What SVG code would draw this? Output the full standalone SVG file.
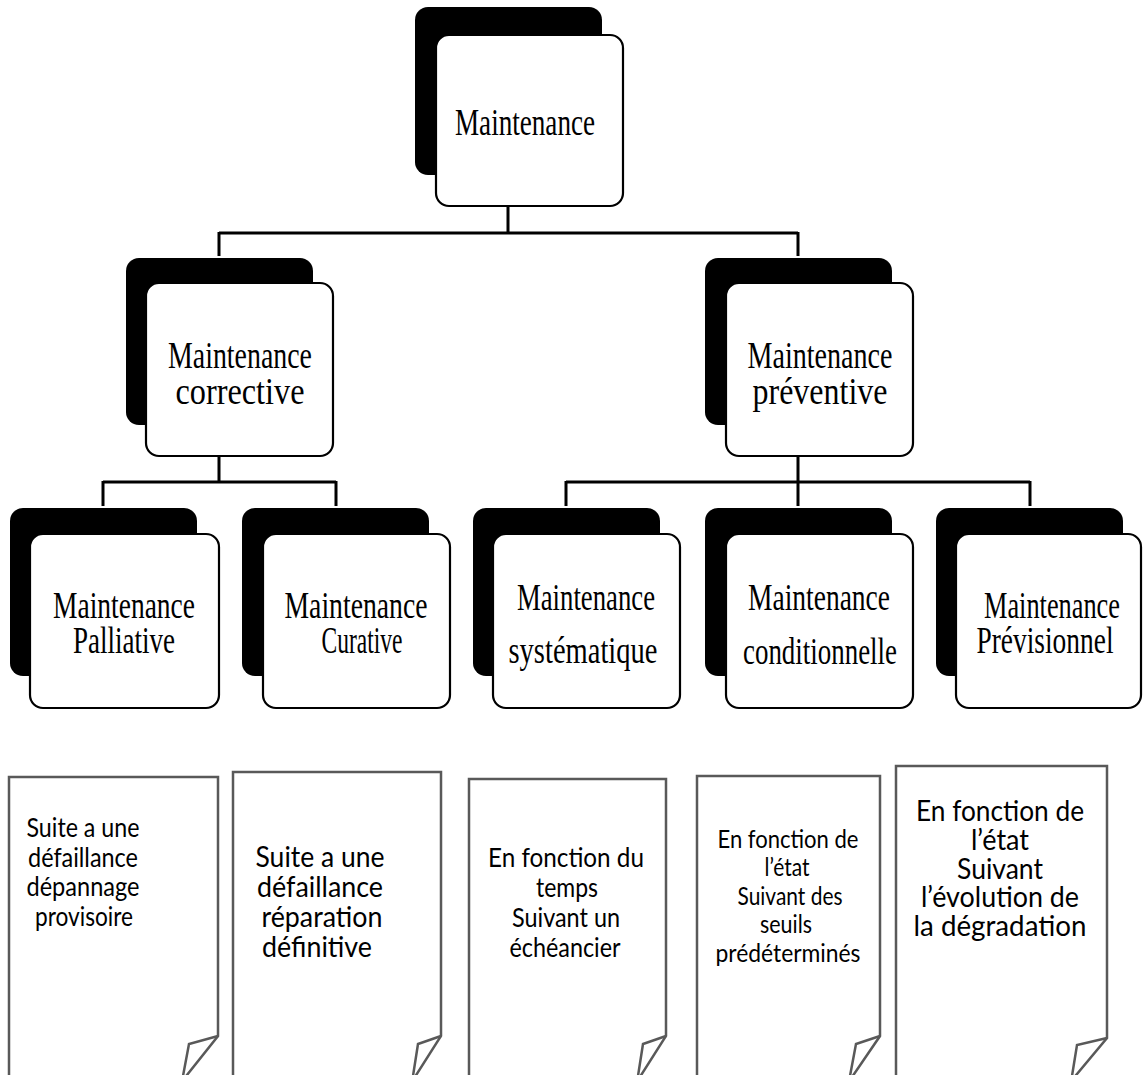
<svg xmlns="http://www.w3.org/2000/svg" width="1143" height="1075" viewBox="0 0 1143 1075">
  <style>
    .shadow { fill: #000; }
    .box { fill: #fff; stroke: #000; stroke-width: 2.2; }
    .lbl { font-family: "Liberation Serif", "Times New Roman", serif; font-size: 38px; text-anchor: middle; fill: #000; }
    .conn path { stroke: #000; stroke-width: 3; fill: none; }
    .doc { fill: #fff; stroke: #595959; stroke-width: 2.5; stroke-linejoin: miter; }
    .fold { fill: none; stroke: #595959; stroke-width: 2.5; stroke-linejoin: miter; }
    .note { font-family: Lato, "Open Sans", "Liberation Sans", sans-serif; text-anchor: middle; fill: #000; }
  </style>
  <rect width="1143" height="1075" fill="#fff"/>

  <!-- connectors of the tree -->
  <g id="connectors" class="conn">
    <path d="M508,206 V233 M219,233 H798 M219,232 V256 M798,232 V256"/>
    <path d="M219,456 V482 M103,482 H336 M103,481 V506 M336,481 V506"/>
    <path d="M798,456 V506 M566,482 H1030 M566,481 V506 M1030,481 V506"/>
  </g>

  <!-- level 1 -->
  <g id="maintenance">
    <rect class="shadow" x="415" y="7" width="187" height="168" rx="13"/>
    <rect class="box" x="436" y="35" width="187" height="171" rx="13"/>
    <text class="lbl" x="525" y="135" font-size="40" textLength="140" lengthAdjust="spacingAndGlyphs">Maintenance</text>
  </g>

  <!-- level 2 -->
  <g id="corrective">
    <rect class="shadow" x="126" y="258" width="187" height="167" rx="13"/>
    <rect class="box" x="146" y="283" width="187" height="173" rx="13"/>
    <text class="lbl" x="240" y="368" textLength="144" lengthAdjust="spacingAndGlyphs">Maintenance</text>
    <text class="lbl" x="240" y="404" textLength="129" lengthAdjust="spacingAndGlyphs">corrective</text>
  </g>
  <g id="preventive">
    <rect class="shadow" x="705" y="258" width="187" height="167" rx="13"/>
    <rect class="box" x="726" y="283" width="187" height="173" rx="13"/>
    <text class="lbl" x="820" y="368" textLength="145" lengthAdjust="spacingAndGlyphs">Maintenance</text>
    <text class="lbl" x="820" y="404" textLength="135" lengthAdjust="spacingAndGlyphs">préventive</text>
  </g>

  <!-- level 3 -->
  <g id="palliative">
    <rect class="shadow" x="10" y="508" width="187" height="168" rx="13"/>
    <rect class="box" x="30" y="534" width="189" height="174" rx="13"/>
    <text class="lbl" x="124" y="618" textLength="142" lengthAdjust="spacingAndGlyphs">Maintenance</text>
    <text class="lbl" x="124" y="653" textLength="102" lengthAdjust="spacingAndGlyphs">Palliative</text>
  </g>
  <g id="curative">
    <rect class="shadow" x="242" y="508" width="187" height="168" rx="13"/>
    <rect class="box" x="263" y="534" width="187" height="174" rx="13"/>
    <text class="lbl" x="356" y="618" textLength="143" lengthAdjust="spacingAndGlyphs">Maintenance</text>
    <text class="lbl" x="362" y="653" textLength="81" lengthAdjust="spacingAndGlyphs">Curative</text>
  </g>
  <g id="systematique">
    <rect class="shadow" x="473" y="508" width="187" height="168" rx="13"/>
    <rect class="box" x="493" y="534" width="187" height="174" rx="13"/>
    <text class="lbl" x="586" y="610" textLength="138" lengthAdjust="spacingAndGlyphs">Maintenance</text>
    <text class="lbl" x="583" y="663" textLength="149" lengthAdjust="spacingAndGlyphs">systématique</text>
  </g>
  <g id="conditionnelle">
    <rect class="shadow" x="705" y="508" width="187" height="168" rx="13"/>
    <rect class="box" x="726" y="534" width="187" height="174" rx="13"/>
    <text class="lbl" x="819" y="610" textLength="142" lengthAdjust="spacingAndGlyphs">Maintenance</text>
    <text class="lbl" x="820" y="664" textLength="154" lengthAdjust="spacingAndGlyphs">conditionnelle</text>
  </g>
  <g id="previsionnel">
    <rect class="shadow" x="936" y="508" width="187" height="168" rx="13"/>
    <rect class="box" x="956" y="534" width="185" height="174" rx="13"/>
    <text class="lbl" x="1052" y="618" textLength="136" lengthAdjust="spacingAndGlyphs">Maintenance</text>
    <text class="lbl" x="1045" y="653" textLength="137" lengthAdjust="spacingAndGlyphs">Prévisionnel</text>
  </g>

  <!-- description sheets with folded corner -->
  <g id="note-palliative">
    <path class="doc" d="M9,1080 V777 H218 V1036 L183,1080"/>
    <path class="fold" d="M218,1036 L189,1044 L183,1076"/>
    <g class="note" font-size="26.5">
      <text x="83" y="837" textLength="113" lengthAdjust="spacingAndGlyphs">Suite a une</text>
      <text x="83" y="867" textLength="110" lengthAdjust="spacingAndGlyphs">défaillance</text>
      <text x="83" y="896" textLength="113" lengthAdjust="spacingAndGlyphs">dépannage</text>
      <text x="84" y="926" textLength="98" lengthAdjust="spacingAndGlyphs">provisoire</text>
    </g>
  </g>
  <g id="note-curative">
    <path class="doc" d="M233,1080 V772 H441 V1036 L413,1080"/>
    <path class="fold" d="M441,1036 L418,1044 L413,1076"/>
    <g class="note" font-size="29.5">
      <text x="320" y="867" textLength="129" lengthAdjust="spacingAndGlyphs">Suite a une</text>
      <text x="320" y="897" textLength="126" lengthAdjust="spacingAndGlyphs">défaillance</text>
      <text x="322" y="927" textLength="121" lengthAdjust="spacingAndGlyphs">réparation</text>
      <text x="317" y="957" textLength="110" lengthAdjust="spacingAndGlyphs">définitive</text>
    </g>
  </g>
  <g id="note-systematique">
    <path class="doc" d="M469,1080 V779 H666 V1036 L638,1080"/>
    <path class="fold" d="M666,1036 L643,1044 L638,1076"/>
    <g class="note" font-size="27.5">
      <text x="566" y="867" textLength="156" lengthAdjust="spacingAndGlyphs">En fonction du</text>
      <text x="567" y="897" textLength="62" lengthAdjust="spacingAndGlyphs">temps</text>
      <text x="566" y="927" textLength="108" lengthAdjust="spacingAndGlyphs">Suivant un</text>
      <text x="565" y="957" textLength="111" lengthAdjust="spacingAndGlyphs">échéancier</text>
    </g>
  </g>
  <g id="note-conditionnelle">
    <path class="doc" d="M697,1080 V776 H880 V1036 L850,1080"/>
    <path class="fold" d="M880,1036 L856,1044 L850,1076"/>
    <g class="note" font-size="25.5">
      <text x="788" y="848" textLength="141" lengthAdjust="spacingAndGlyphs">En fonction de</text>
      <text x="787" y="876" textLength="45" lengthAdjust="spacingAndGlyphs">l’état</text>
      <text x="790" y="905" textLength="105" lengthAdjust="spacingAndGlyphs">Suivant des</text>
      <text x="786" y="933" textLength="52" lengthAdjust="spacingAndGlyphs">seuils</text>
      <text x="788" y="962" textLength="145" lengthAdjust="spacingAndGlyphs">prédéterminés</text>
    </g>
  </g>
  <g id="note-previsionnel">
    <path class="doc" d="M896,1080 V766 H1107 V1038 L1072,1080"/>
    <path class="fold" d="M1107,1038 L1077,1045 L1072,1076"/>
    <g class="note" font-size="29">
      <text x="1000" y="821" textLength="168" lengthAdjust="spacingAndGlyphs">En fonction de</text>
      <text x="1000" y="850" textLength="58" lengthAdjust="spacingAndGlyphs">l’état</text>
      <text x="1000" y="879" textLength="86" lengthAdjust="spacingAndGlyphs">Suivant</text>
      <text x="1000" y="907" textLength="158" lengthAdjust="spacingAndGlyphs">l’évolution de</text>
      <text x="1000" y="936" textLength="173" lengthAdjust="spacingAndGlyphs">la dégradation</text>
    </g>
  </g>
</svg>
